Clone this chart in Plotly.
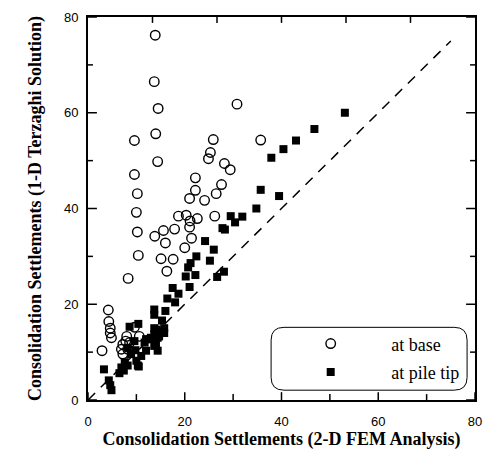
import plotly.graph_objects as go

# ---- data ----
base_x = [13.9, 13.7, 14.5, 9.6, 14.0, 14.4, 9.6, 10.2, 30.8, 25.9, 25.3, 24.9, 35.7, 28.2, 29.4,
          22.2, 22.2, 27.6, 26.5, 21.0, 24.1, 10.0, 18.7, 20.3, 26.2, 21.1, 22.6, 10.2, 15.6, 17.9,
          21.0, 13.8, 16.0, 21.4, 20.0, 10.4, 15.1, 17.6, 16.3, 8.3, 4.2, 4.3, 4.6, 4.6, 4.85,
          2.9, 8.0, 7.8, 7.2, 6.9, 7.2, 8.2, 8.6, 10.6, 9.6]
base_y = [76.2, 66.5, 60.9, 54.2, 55.6, 49.8, 47.1, 43.1, 61.8, 54.4, 51.7, 50.4, 54.3, 49.4, 48.1,
          46.4, 43.8, 45.0, 43.1, 42.1, 41.7, 39.2, 38.4, 38.6, 38.4, 37.4, 37.9, 35.1, 35.4, 35.7,
          36.1, 34.2, 32.8, 33.8, 31.8, 30.2, 29.5, 29.4, 26.9, 25.4, 18.8, 16.4, 15.0, 14.0, 13.0,
          10.3, 13.3, 12.3, 11.6, 10.6, 9.6, 10.6, 12.0, 13.3, 15.2]

tip_x = [53.1, 46.8, 43.0, 40.4, 37.9, 35.7, 39.5, 34.8, 31.9, 29.5, 30.4, 27.8, 28.3, 24.2, 26.0,
         25.2, 28.1, 26.7, 22.4, 21.2, 20.7, 22.2, 20.2, 21.0, 17.5, 18.7, 16.4, 18.0, 13.7, 13.7,
         16.0, 15.3, 13.7, 15.75, 15.75, 13.7, 13.0, 12.0, 14.7, 14.05, 14.4, 10.4, 8.6,
         8.2, 8.9, 7.6, 6.9, 8.2, 10.0, 10.3, 11.0, 12.0, 11.7, 12.7, 13.7, 14.4, 15.4, 14.1,
         9.6, 9.8, 10.5, 7.4, 6.5, 3.3, 4.3, 4.6, 4.85]
tip_y = [60.0, 56.6, 54.2, 52.4, 50.6, 43.9, 42.6, 40.0, 38.3, 38.4, 37.1, 35.9, 35.6, 33.2, 31.4,
         29.1, 26.8, 25.7, 30.0, 28.6, 27.7, 26.1, 25.8, 23.6, 23.4, 22.2, 21.2, 20.4, 18.9, 17.8,
         18.6, 16.6, 15.0, 15.0, 14.0, 13.7, 13.0, 12.7, 13.3, 11.6, 10.3, 15.9, 15.3,
         10.9, 9.6, 7.9, 6.8, 7.2, 8.2, 7.2, 9.2, 10.3, 12.0, 12.7, 11.3, 13.0, 14.4, 14.7,
         12.3, 10.4, 7.0, 6.15, 5.6, 6.4, 4.1, 3.1, 2.05]

line_x = [0, 75]
line_y = [0, 75]

AX_MAX = 80
x_ticks = [0, 20, 40, 60, 80]
y_ticks = [0, 20, 40, 60, 80]
minor_ticks = [10, 30, 50, 70]
top_ticks = [80 / 6, 160 / 6, 40, 320 / 6, 400 / 6]

# pixel geometry of the plot area
L, R, T, B = 88, 479, 10, 400
W, H = R - L, B - T
ux = AX_MAX / W   # data units per pixel (x)
uy = AX_MAX / H   # data units per pixel (y)

# tick mark segments (inside), built from the tick arrays
tx, ty = [], []
for v in x_ticks + minor_ticks:
    ln = 8 if v in x_ticks else 6
    tx += [v, v, None]
    ty += [0, ln * uy, None]
for v in top_ticks:
    tx += [v, v, None]
    ty += [AX_MAX, AX_MAX - 6 * uy, None]
for v in y_ticks + minor_ticks:
    ln = 9 if v in y_ticks else 5
    tx += [0, ln * ux, None, AX_MAX, AX_MAX - ln * ux, None]
    ty += [v, v, None, v, v, None]

fig = go.Figure()
fig.add_trace(go.Scatter(x=tx, y=ty, mode="lines", line=dict(color="black", width=1.5),
                         showlegend=False, hoverinfo="skip", cliponaxis=False))
fig.add_trace(go.Scatter(x=line_x, y=line_y, mode="lines",
                         line=dict(color="black", width=1.5, dash="10px,8px"),
                         showlegend=False, hoverinfo="skip"))
NB = "\u00a0"
fig.add_trace(go.Scatter(x=base_x, y=base_y, mode="markers", name=NB * 9 + "at base",
                         legendgroup="a",
                         marker=dict(symbol="circle-open", size=9.5, color="black",
                                     line=dict(width=1.4, color="black"))))
fig.add_trace(go.Scatter(x=tip_x, y=tip_y, mode="markers", name=NB * 9 + "at pile tip",
                         legendgroup="b",
                         marker=dict(symbol="square", size=8, color="black")))

def px(x): return (x - L) / W
def py(y): return (B - y) / H

# rounded legend frame
x0, x1, y0, y1, r = 273, 471, 326, 390, 13
frame = (f"M {px(x0 + r)} {py(y0)} L {px(x1 - r)} {py(y0)} Q {px(x1)} {py(y0)} {px(x1)} {py(y0 + r)} "
         f"L {px(x1)} {py(y1 - r)} Q {px(x1)} {py(y1)} {px(x1 - r)} {py(y1)} "
         f"L {px(x0 + r)} {py(y1)} Q {px(x0)} {py(y1)} {px(x0)} {py(y1 - r)} "
         f"L {px(x0)} {py(y0 + r)} Q {px(x0)} {py(y0)} {px(x0 + r)} {py(y0)} Z")

fig.update_layout(
    width=492, height=461,
    margin=dict(l=88, r=13, t=10, b=61),
    paper_bgcolor="white", plot_bgcolor="white",
    shapes=[dict(type="path", path=frame, xref="paper", yref="paper",
                 line=dict(color="black", width=1), fillcolor="rgba(0,0,0,0)")],
    legend=dict(x=px(313), y=py(324), xanchor="left", yanchor="top",
                bgcolor="rgba(0,0,0,0)", borderwidth=0,
                font=dict(family="Liberation Serif", size=18, color="black"),
                traceorder="grouped", tracegroupgap=2, itemwidth=30),
    xaxis=dict(range=[0, AX_MAX], tickvals=x_ticks, ticks="",
               showline=True, linecolor="black", linewidth=2, mirror=True,
               showgrid=False, zeroline=False, ticklabelstandoff=8,
               tickfont=dict(family="Liberation Sans", size=13, color="black"),
               title=dict(text="Consolidation Settlements (2-D FEM Analysis)", standoff=4,
                          font=dict(family="Liberation Serif", size=18, color="black",
                                    weight="bold"))),
    yaxis=dict(range=[0, AX_MAX], tickvals=y_ticks, ticks="",
               showline=True, linecolor="black", linewidth=2, mirror=True,
               showgrid=False, zeroline=False, ticklabelstandoff=5,
               tickfont=dict(family="Liberation Sans", size=13, color="black"),
               title=dict(text="Consolidation Settlements (1-D Terzaghi Solution)", standoff=18,
                          font=dict(family="Liberation Serif", size=18, color="black",
                                    weight="bold"))),
)

fig.write_html("out.html", config={"displayModeBar": False},
               post_script="document.body.style.margin='0px';")
